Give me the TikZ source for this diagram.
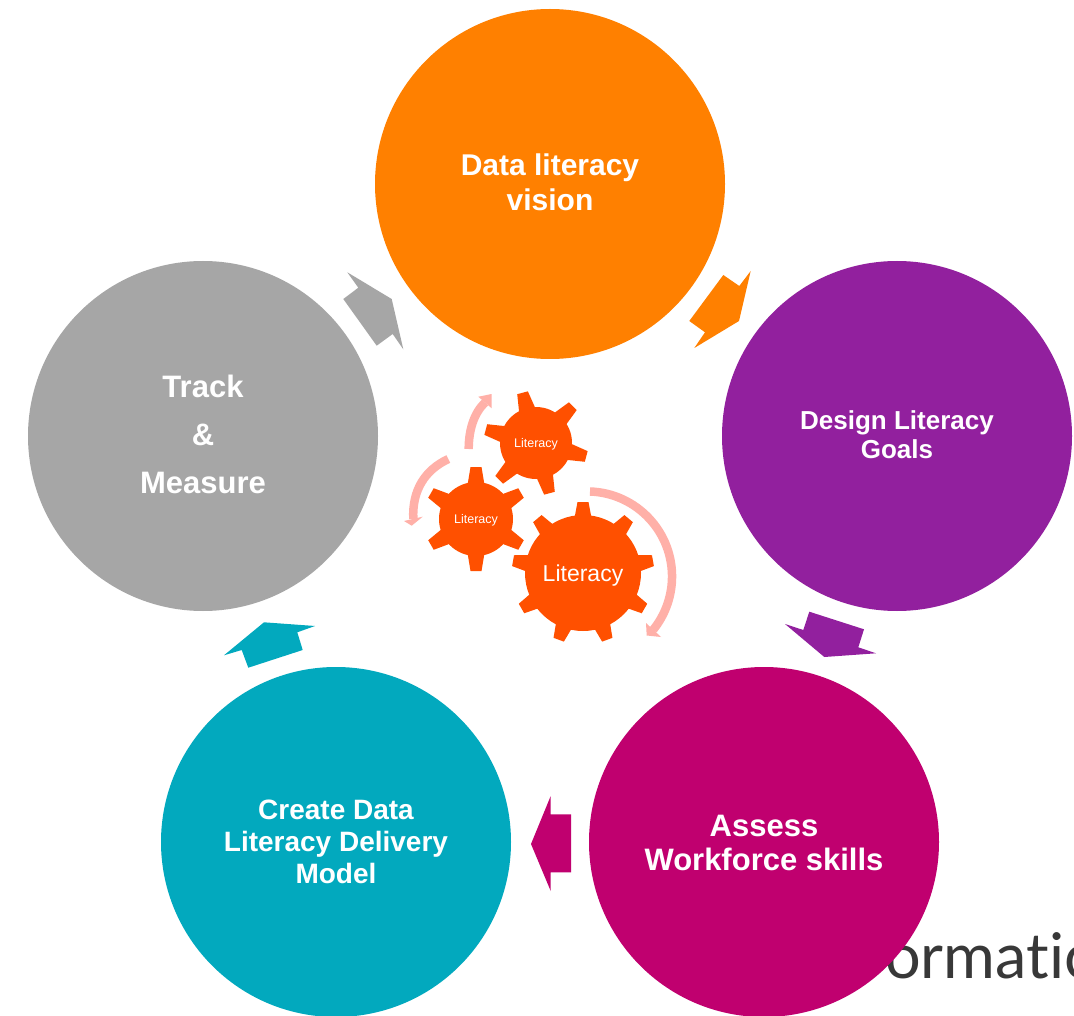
\documentclass[tikz,border=0pt]{standalone}
\usepackage{fontspec}
\setmainfont{Liberation Sans}
\newfontfamily\logofont[Ligatures=NoCommon]{Lato}
\tikzset{>=stealth}
\colorlet{background}{white}
\definecolor{visionColor}{HTML}{FF8000}
\definecolor{goalsColor}{HTML}{92209E}
\definecolor{skillsColor}{HTML}{C0006F}
\definecolor{modelColor}{HTML}{02A9BE}
\definecolor{trackColor}{HTML}{A6A6A6}
\definecolor{gearColor}{HTML}{FF5000}
\definecolor{turnColor}{HTML}{FFB0A8}
\tikzset{
  stage/.style={circle,minimum size=350pt,inner sep=0pt},
  stagetext/.style 2 args={inner sep=0pt,align=center,text=white,font=\bfseries\fontsize{#1}{#2}\selectfont},
  gearlabel/.style={inner sep=0pt,text=white,font=\fontsize{#1}{#1}\selectfont},
  turn/.style={draw=turnColor,line width=8.5pt}
}
% x y body tip start-angle teeth-step
\newcommand{\gearat}[6]{%
  \fill[gearColor] (#1,#2) circle (#3);
  \foreach \a in {0,#6,...,359}
    \fill[gearColor,shift={(#1,#2)},rotate=#5+\a] (#3-3,-8.5) -- (#4,-5.5) -- (#4,5.5) -- (#3-3,8.5) -- cycle;
}
\begin{document}
\begin{tikzpicture}[x=1pt,y=1pt]
\clip (0,0) rectangle (1074,-1016);
\fill[background] (0,0) rectangle (1074,-1016);
\node[anchor=base west,inner sep=0pt,text=black!78,font=\logofont\fontsize{63}{63}\selectfont] (logo) at (885,-978) {ormatic};
% circles
\node[stage,fill=visionColor] (vision) at (550,-184) {};
\node[stage,fill=goalsColor] (goals) at (897,-436) {};
\node[stage,fill=skillsColor] (skills) at (764,-842) {};
\node[stage,fill=modelColor] (model) at (336,-842) {};
\node[stage,fill=trackColor] (track) at (203,-436) {};
\node[stagetext={30}{35}] (visiontext) at (550,-182) {Data literacy\\vision};
\node[stagetext={26}{29}] (goalstext) at (897,-435) {Design Literacy\\Goals};
\node[stagetext={31}{34}] (skillstext) at (764,-843) {Assess\\Workforce skills};
\node[stagetext={28}{32}] (modeltext) at (336,-842) {Create Data\\Literacy Delivery\\Model};
\node[stagetext={31}{48}] (tracktext) at (203,-434) {Track\\\&\\Measure};
% block arrows
\fill[visionColor] (750.7,-271) -- (739.3,-286) -- (723.3,-275) -- (689.3,-321) -- (705,-332.3) -- (694.3,-348) -- (739,-321) -- cycle;
\fill[goalsColor] (785,-624) -- (803.3,-630) -- (809.3,-611.7) -- (864,-629.3) -- (858.3,-647.3) -- (876,-653.3) -- (824.3,-657) -- cycle;
\fill[skillsColor] (550.7,-796) -- (550.7,-814.3) -- (571,-814.3) -- (571,-872.3) -- (550.7,-872.3) -- (550.7,-891) -- (531,-844) -- cycle;
\fill[modelColor] (224,-655.3) -- (241.7,-650) -- (248.3,-667.7) -- (302.7,-650) -- (297.3,-632.3) -- (315,-626) -- (264,-622.3) -- cycle;
\fill[trackColor] (347.3,-272.3) -- (391.7,-299) -- (403.3,-349.3) -- (392.7,-334) -- (376.7,-345.7) -- (343.3,-299) -- (358.3,-287.7) -- cycle;
% gears
\gearat{583}{-573}{58}{71}{90}{40}
\gearat{476}{-519}{37}{52}{90}{60}
\gearat{536}{-443}{36}{52}{45}{60}
\node[gearlabel=23] (big) at (583,-576) {Literacy};
\node[gearlabel=12.5] (left) at (476,-520) {Literacy};
\node[gearlabel=12.5] (top) at (536,-444) {Literacy};
% turning arrows
\draw[turn] (590,-491.5) arc (88:-39:85);
\fill[turnColor] (646,-623) -- (661,-637) -- (646.7,-635.5) -- cycle;
\draw[turn] (468.7,-449) .. controls (468.7,-430) and (474,-413) .. (485,-402.5);
\fill[turnColor] (478.3,-396.7) -- (491.7,-394) -- (491.7,-408.3) -- cycle;
\draw[turn] (448.3,-459) .. controls (425,-470) and (412,-490) .. (413.3,-519);
\fill[turnColor] (404,-521) -- (422.7,-516.7) -- (411.7,-525.7) -- cycle;
\end{tikzpicture}
\end{document}
